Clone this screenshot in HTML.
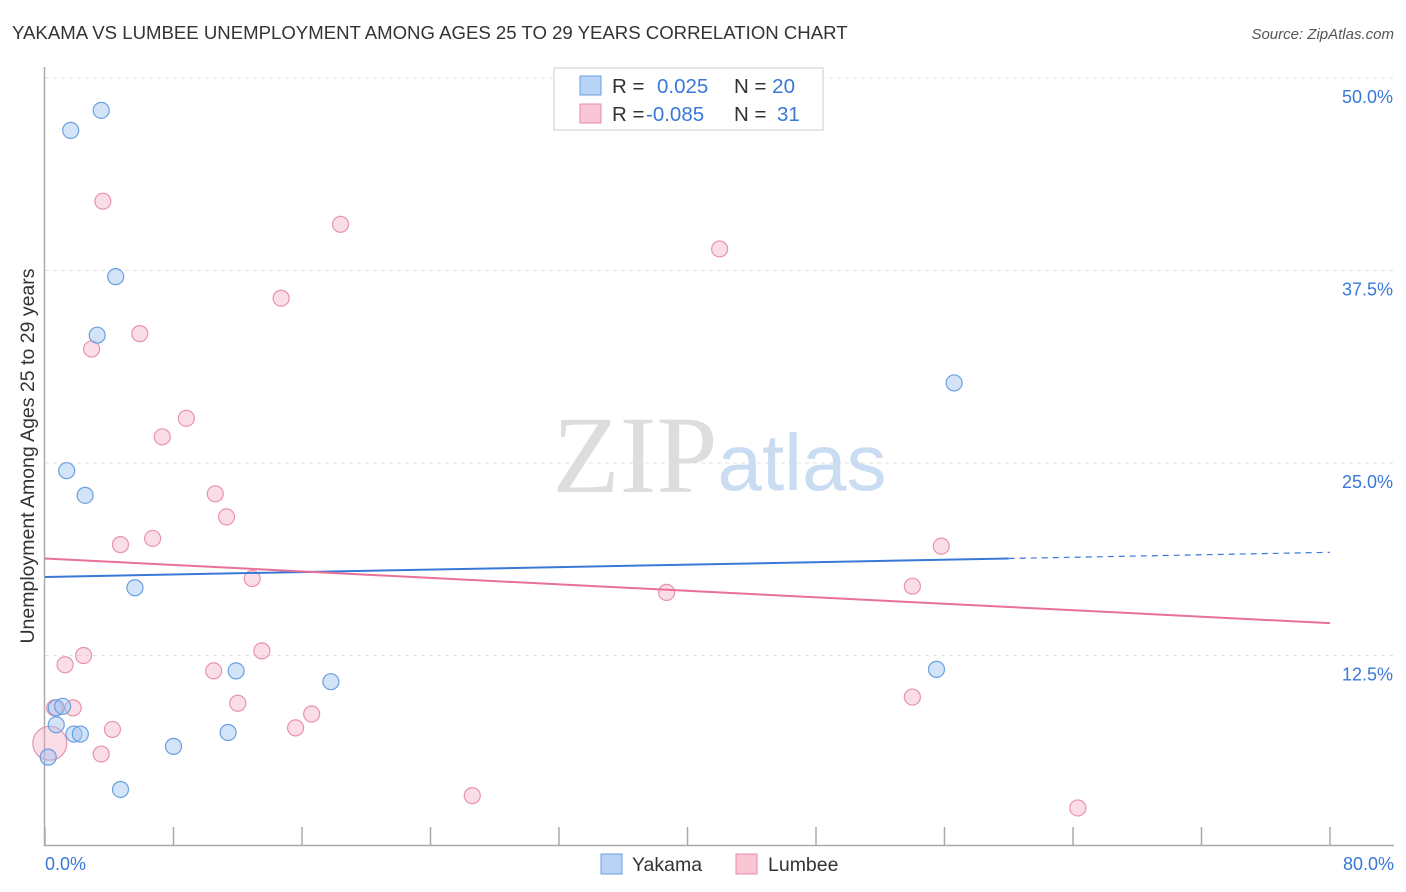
<!DOCTYPE html>
<html><head><meta charset="utf-8"><style>
body{margin:0;background:#fff;font-family:"Liberation Sans",sans-serif}
svg{display:block}
</style></head><body>
<svg width="1406" height="892" xmlns="http://www.w3.org/2000/svg">
<text x="12" y="39" font-size="18.6" fill="#333">YAKAMA VS LUMBEE UNEMPLOYMENT AMONG AGES 25 TO 29 YEARS CORRELATION CHART</text>
<text x="1394" y="39" font-size="15" fill="#555" font-style="italic" text-anchor="end">Source: ZipAtlas.com</text>
<g id="grid"></g>
<text x="635" y="492" font-size="110" fill="#ddd" font-family="Liberation Serif,serif" text-anchor="middle">ZIP</text>
<text x="802" y="490" font-size="80" fill="#c9dcf2" text-anchor="middle">atlas</text>
<text transform="translate(34,456) rotate(-90)" font-size="19.5" fill="#333" text-anchor="middle">Unemployment Among Ages 25 to 29 years</text>
<g id="marks"></g>
<g>
<rect x="554" y="68" width="269" height="62" fill="#fff" stroke="#ccc"/>
<rect x="580" y="76" width="21" height="19" fill="#b8d3f5" stroke="#6a9fe0"/>
<rect x="580" y="104" width="21" height="19" fill="#f8c6d5" stroke="#e88aa8"/>
<text x="612" y="93" font-size="20.5" fill="#333">R = <tspan fill="#3a78d8" x="657">0.025</tspan><tspan x="734">N = </tspan><tspan fill="#3a78d8">20</tspan></text>
<text x="612" y="121" font-size="20.5" fill="#333">R = <tspan fill="#3a78d8" x="646">-0.085</tspan><tspan x="734">N = </tspan><tspan fill="#3a78d8" x="777">31</tspan></text>
</g>
<g>
<rect x="601" y="854" width="21" height="20" fill="#b8d3f5" stroke="#6a9fe0"/>
<text x="632" y="871" font-size="19.5" fill="#333">Yakama</text>
<rect x="736" y="854" width="21" height="20" fill="#f8c6d5" stroke="#e88aa8"/>
<text x="768" y="871" font-size="19.5" fill="#333">Lumbee</text>
</g>
</svg>
<script>
const yakamaX=[3.5,1.6,4.4,3.25,1.35,2.5,5.6,56.6,11.9,17.8,55.5,0.7,1.1,0.7,1.8,2.2,8.0,11.4,0.2,4.7];
const yakamaY=[47.9,46.6,37.1,33.3,24.5,22.9,16.9,30.2,11.5,10.8,11.6,9.1,9.2,8.0,7.4,7.4,6.6,7.5,5.9,3.8];
const lumbeeX=[3.6,18.4,42.0,14.7,5.9,2.9,8.8,7.3,10.6,11.3,4.7,6.7,55.8,12.9,38.7,54.0,2.4,1.25,13.5,10.5,12.0,54.0,1.75,16.6,4.2,15.6,3.5,0.3,26.6,64.3,0.6];
const lumbeeY=[42.0,40.5,38.9,35.7,33.4,32.4,27.9,26.7,23.0,21.5,19.7,20.1,19.6,17.5,16.6,17.0,12.5,11.9,12.8,11.5,9.4,9.8,9.1,8.7,7.7,7.8,6.1,6.8,3.4,2.6,9.1];
const lumbeeR=[8,8,8,8,8,8,8,8,8,8,8,8,8,8,8,8,8,8,8,8,8,8,8,8,8,8,8,17,8,8,8];
const xTicks=[0,8,16,24,32,40,48,56,64,72,80];
const yTicks=[12.5,25,37.5,50];
const yakamaTrend=[17.6,18.8,19.2];
const lumbeeTrend=[18.8,14.6];
const NS="http://www.w3.org/2000/svg";
const X=v=>45+v/80*1285, Y=v=>848-v/50*770;
function mk(t,a,p){const e=document.createElementNS(NS,t);for(const k in a)e.setAttribute(k,a[k]);(p||document.getElementById('marks')).appendChild(e);return e;}
const g=document.getElementById('grid');
yTicks.forEach(v=>{
 const l=mk('line',{x1:45,x2:1394,y1:Y(v),y2:Y(v),stroke:'#e2e2e2','stroke-dasharray':'4,4'},g);
 
 
 const t=mk('text',{x:1393,y:Y(v)+25,'font-size':18,fill:'#3a78d8','text-anchor':'end'},g);t.textContent=(v.toFixed(1))+'%';
 
 
});
const ax=mk('path',{d:'M44.5,67V845.5H1394',stroke:'#aaa',fill:'none','stroke-width':1.5},g);


xTicks.forEach(v=>{const l=mk('line',{x1:X(v),x2:X(v),y1:827,y2:845,stroke:'#aaa','stroke-width':1.5},g);
 
 });
[[0,'start',45],[80,'end',1394]].forEach(([v,a,x])=>{const t=mk('text',{x:x,y:870,'font-size':18,fill:'#3a78d8','text-anchor':a},g);t.textContent=v.toFixed(1)+'%';
 
 });
lumbeeX.forEach((v,i)=>{const c=mk('circle',{cx:X(v),cy:Y(lumbeeY[i]),r:lumbeeR[i],fill:'rgba(244,170,195,0.4)',stroke:'#e893ad','stroke-width':1.2});
 
 });
yakamaX.forEach((v,i)=>{const c=mk('circle',{cx:X(v),cy:Y(yakamaY[i]),r:8,fill:'rgba(160,195,240,0.45)',stroke:'#6a9fe0','stroke-width':1.2});
 
 });
const t1=mk('line',{x1:X(0),y1:Y(yakamaTrend[0]),x2:X(60),y2:Y(yakamaTrend[1]),stroke:'#3a78d8','stroke-width':2});


const t2=mk('line',{x1:X(60),y1:Y(yakamaTrend[1]),x2:X(80),y2:Y(yakamaTrend[2]),stroke:'#3a78d8','stroke-width':1.2,'stroke-dasharray':'6,5'});


const t3=mk('line',{x1:X(0),y1:Y(lumbeeTrend[0]),x2:X(80),y2:Y(lumbeeTrend[1]),stroke:'#e8709a','stroke-width':2});


</script>
</body></html>
